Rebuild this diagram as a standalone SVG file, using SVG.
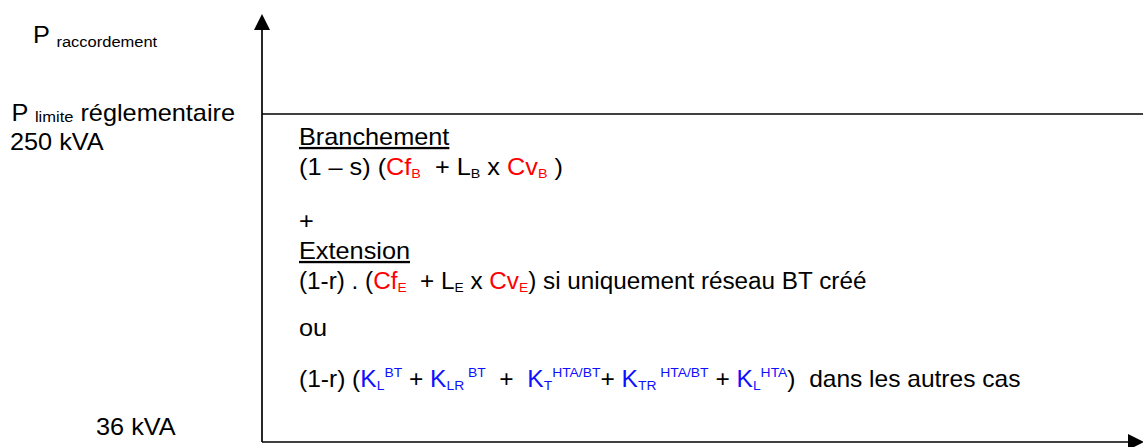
<svg xmlns="http://www.w3.org/2000/svg" width="1143" height="447" viewBox="0 0 1143 447">
<style>
text{font-family:"Liberation Sans",Arial,Helvetica,sans-serif;font-size:23px;fill:#000;white-space:pre}
.s{font-size:13px}
.ls{font-size:15px}
.r{fill:#ff0000}
.b{fill:#1010ff}
.u{text-decoration:underline}
.ax{stroke:#000;stroke-width:1.7;fill:none}
</style>
<defs>
<marker id="arr" markerUnits="userSpaceOnUse" viewBox="0 0 16 16" markerWidth="16" markerHeight="16" refX="0" refY="8" orient="auto">
<path d="M0,0 L16,8 L0,16 z" fill="#000"/>
</marker>
</defs>
<g id="connectors">
<line class="ax" x1="262" y1="442" x2="262" y2="30" marker-end="url(#arr)"/>
<line class="ax" x1="262" y1="442" x2="1128" y2="442" marker-end="url(#arr)"/>
<line class="ax" x1="262" y1="114" x2="1143" y2="114"/>
</g>
<g id="axis-labels">
<text transform="translate(33,43) scale(1.1,1)">P <tspan class="ls" dy="4">raccordement</tspan></text>
<text transform="translate(11.5,121) scale(1.1,1)">P <tspan class="ls" dy="1">limite</tspan><tspan dy="-1"> réglementaire</tspan></text>
<text transform="translate(10,150) scale(1.1,1)">250 kVA</text>
<text transform="translate(96,435) scale(1.1,1)">36 kVA</text>
</g>
<g id="formula">
<text class="u" transform="translate(299,145) scale(1.1,1)">Branchement</text>
<text transform="translate(299,175) scale(1.1,1)">(1 – s) (<tspan class="r">Cf</tspan><tspan class="r s" dy="3">B</tspan><tspan dy="-3">  + L</tspan><tspan class="s" dy="3">B</tspan><tspan dy="-3"> x </tspan><tspan class="r">Cv</tspan><tspan class="r s" dy="3">B</tspan><tspan dy="-3"> )</tspan></text>
<text transform="translate(299,229) scale(1.1,1)">+</text>
<text class="u" transform="translate(299,259) scale(1.1,1)">Extension</text>
<text transform="translate(299,289) scale(1.056,1)">(1-r) . (<tspan class="r">Cf</tspan><tspan class="r s" dy="3">E</tspan><tspan dy="-3">  + L</tspan><tspan class="s" dy="3">E</tspan><tspan dy="-3"> x </tspan><tspan class="r">Cv</tspan><tspan class="r s" dy="3">E</tspan><tspan dy="-3">) si uniquement réseau BT créé</tspan></text>
<text transform="translate(299,336) scale(1.1,1)">ou</text>
<text transform="translate(299,387) scale(1.067,1)">(1-r) (<tspan class="b">K</tspan><tspan class="b s" dy="3">L</tspan><tspan class="b s" dy="-13">BT</tspan><tspan dy="10"> + </tspan><tspan class="b">K</tspan><tspan class="b s" dy="3">LR</tspan><tspan class="b s" dy="-13"> BT</tspan><tspan dy="10">  +  </tspan><tspan class="b">K</tspan><tspan class="b s" dy="3">T</tspan><tspan class="b s" dy="-13">HTA/BT</tspan><tspan dy="10">+ </tspan><tspan class="b">K</tspan><tspan class="b s" dy="3">TR</tspan><tspan class="b s" dy="-13"> HTA/BT</tspan><tspan dy="10"> + </tspan><tspan class="b">K</tspan><tspan class="b s" dy="3">L</tspan><tspan class="b s" dy="-13">HTA</tspan><tspan dy="10">)  dans les autres cas</tspan></text>
</g>
</svg>
